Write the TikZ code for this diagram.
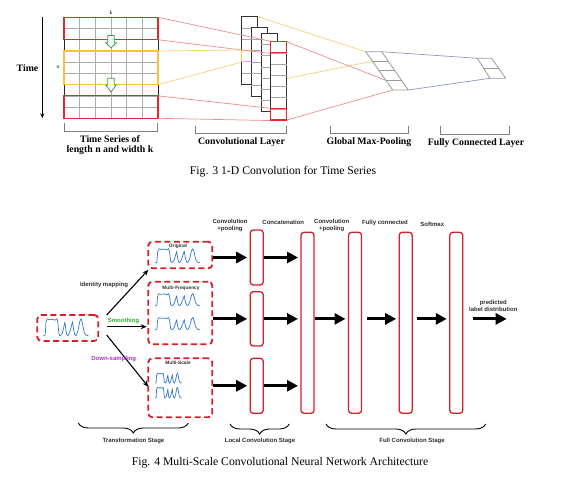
\documentclass[tikz,border=0pt]{standalone}
\usepackage{fontspec}
\setmainfont{Liberation Serif}
\newfontfamily\sansb{Liberation Sans}
\usetikzlibrary{arrows.meta,calc,decorations.pathreplacing}
\pgfdeclarelayer{back}
\pgfsetlayers{back,main}
\definecolor{lred}{RGB}{240,140,140}
\definecolor{lyel}{RGB}{246,208,120}
\definecolor{lblue}{RGB}{140,150,200}
\definecolor{rectred}{RGB}{228,40,45}
\definecolor{rectyel}{RGB}{245,195,60}
\definecolor{boxred}{RGB}{215,30,40}
\definecolor{garr}{RGB}{70,150,70}
\definecolor{wavecol}{RGB}{50,120,200}
\definecolor{smcol}{RGB}{50,170,50}
\definecolor{dscol}{RGB}{170,50,190}
\definecolor{txtg}{RGB}{45,45,45}
\newcommand\lbl{\sansb\bfseries\fontsize{6}{7}\selectfont}
\newcommand\slbl{\sansb\bfseries\fontsize{4.8}{5.5}\selectfont}
\newcommand\tlbl{\bfseries\fontsize{9.8}{10.5}\selectfont}
\newcommand\capfont{\fontsize{11.7}{14}\selectfont}
\newcommand\wave[4]{%
  \draw[wavecol, line width=0.7pt, shift={(#1,#2)}, xscale=#3, yscale=-#4]
  plot[smooth, tension=0.45] coordinates {(0,0.02) (0.04,0.06) (0.06,0.75) (0.09,0.95) (0.14,0.9) (0.2,0.93) (0.26,0.88) (0.3,0.95) (0.32,0.8) (0.35,0.1) (0.38,0.03) (0.42,0.15) (0.46,0.55) (0.48,0.75) (0.5,0.4) (0.52,0.08) (0.55,0.03) (0.59,0.25) (0.63,0.6) (0.65,0.78) (0.67,0.4) (0.7,0.08) (0.73,0.03) (0.77,0.3) (0.81,0.8) (0.84,0.95) (0.87,0.7) (0.91,0.2) (0.95,0.05) (1,0.02)};}
\begin{document}
\begin{tikzpicture}[x=1pt,y=-1pt,
  gridl/.style={draw=gray!65, line width=0.6pt},
  rrect/.style={draw=rectred, line width=1.1pt, inner sep=0pt, outer sep=0pt, minimum width=94pt},
  yrect/.style={draw=rectyel, line width=1.1pt, inner sep=0pt, outer sep=0pt, minimum width=94pt},
  colbox/.style={draw=gray!40!black, fill=white, line width=0.8pt, inner sep=0pt, outer sep=0pt, minimum width=16pt},
  colline/.style={draw=gray!70, line width=0.6pt},
  redl/.style={draw=lred, line width=0.7pt},
  yell/.style={draw=lyel, line width=0.7pt},
  bluel/.style={draw=lblue, line width=0.7pt},
  shapel/.style={draw=gray!80, line width=0.8pt},
  bracket/.style={draw=gray, line width=0.8pt},
  dbox/.style={draw=boxred, line width=1.8pt, dash pattern=on 6pt off 3.5pt, rounded corners=4pt, inner sep=0pt, outer sep=0pt},
  ccol/.style={draw=boxred, line width=1.3pt, rounded corners=3pt, inner sep=0pt, outer sep=0pt, minimum width=13pt},
  tarr/.style={line width=3pt, -{Triangle[length=11pt,width=11pt]}, shorten <=1pt, shorten >=3pt},
  thinarr/.style={line width=1.1pt, -{Stealth[length=6pt,width=5pt]}},
  brace/.style={decorate, decoration={brace, mirror, amplitude=10pt}, line width=0.9pt},
  txt/.style={inner sep=0pt, text=txtg, font=\lbl}
]
\useasboundingbox (0,0) rectangle (565,478);

% ---------------- Fig. 3 ----------------
\node[inner sep=0pt] (timel) at (27.5,68) {\tlbl Time};
\coordinate (ttop) at (42.3,16.7);
\coordinate (tbot) at (42.3,118.3);
\draw[line width=0.9pt, -{Stealth[length=5pt,width=4pt]}] (ttop) -- (tbot);
\node[inner sep=0pt] (nl) at (58,67.5) {\fontsize{5.5}{6}\selectfont n};
\node[inner sep=0pt] (kl) at (111,12.5) {\fontsize{5.5}{6}\selectfont k};
\foreach \i in {1,...,5} \draw[gridl] ({64+\i*94/6},17.3) -- ({64+\i*94/6},118.3);
\foreach \j in {0,...,9} \draw[gridl] (64,{17.3+\j*101/9}) -- (158,{17.3+\j*101/9});
\draw[draw=gray!30!black, line width=0.8pt] (64,17.3) -- (64,118.3) (158,17.3) -- (158,118.3);
\node[rrect, minimum height=22.44pt] (rtop) at (111,28.52) {};
\node[yrect, minimum height=33.67pt] (ymid) at (111,67.8) {};
\node[rrect, minimum height=22.44pt] (rbot) at (111,107.08) {};
\draw[draw=garr, fill=white, line width=0.8pt] (107.7,35.5) -- (114.3,35.5) -- (114.3,42.7) -- (116.3,42.7) -- (111,47.9) -- (105.7,42.7) -- (107.7,42.7) -- cycle;
\draw[draw=garr, fill=white, line width=0.8pt] (107.7,78.3) -- (114.3,78.3) -- (114.3,85) -- (116.3,85) -- (111,91.9) -- (105.7,85) -- (107.7,85) -- cycle;
\node[colbox, minimum height=67.6pt] (col0) at (249.7,50.5) {};
\foreach \j in {1,...,5} \draw[colline] (241.7,{16.7+\j*11.267}) -- (257.7,{16.7+\j*11.267});
\node[draw=rectyel, line width=1pt, inner sep=0pt, minimum width=16pt, minimum height=11.27pt] (ycell) at (249.7,56.13) {};
\node[colbox, minimum height=69.4pt] (col1) at (259.4,62) {};
\foreach \j in {1,...,5} \draw[colline] (251.4,{27.3+\j*11.567}) -- (267.4,{27.3+\j*11.567});
\node[colbox, minimum height=78.4pt] (col2) at (269,72.5) {};
\foreach \j in {1,...,6} \draw[colline] (261,{33.3+\j*11.2}) -- (277,{33.3+\j*11.2});
\node[colbox, minimum height=78.3pt] (col3) at (278.7,80.85) {};
\foreach \j in {1,...,6} \draw[colline] (270.7,{41.7+\j*11.186}) -- (286.7,{41.7+\j*11.186});
\node[draw=rectred, line width=1.1pt, inner sep=0pt, minimum width=16pt, minimum height=11.19pt] (r3top) at (278.7,47.29) {};
\node[draw=rectred, line width=1.1pt, inner sep=0pt, minimum width=16pt, minimum height=11.19pt] (r3bot) at (278.7,114.41) {};
\draw[redl] (rtop.north east) -- (r3top.north west);
\draw[redl] (rtop.south east) -- (r3top.south west);
\draw[yell] (ymid.north east) -- (ycell.north west);
\draw[yell] (ymid.south east) -- (ycell.south west);
\draw[redl] (rbot.north east) -- (r3bot.north west);
\draw[redl] (rbot.south east) -- (r3bot.south west);
\coordinate (p0) at (365.7,51.7);
\coordinate (p1) at (381.7,51.7);
\coordinate (p2) at (408.3,90);
\coordinate (p3) at (392.7,90);
\draw[shapel] (p0) -- (p1) -- (p2) -- (p3) -- cycle;
\foreach \t in {0.25,0.5,0.75} \draw[shapel] ($(p0)!\t!(p3)$) -- ($(p1)!\t!(p2)$);
\begin{pgfonlayer}{back}
\draw[yell] (col0.north east) -- (p0);
\draw[yell] (col0.south east) -- ($(p0)!0.25!(p3)$);
\draw[redl] (col3.north east) -- ($(p0)!0.75!(p3)$);
\draw[redl] (col3.south east) -- (p3);
\end{pgfonlayer}
\coordinate (q0) at (477.3,58.3);
\coordinate (q1) at (491.7,58.3);
\coordinate (q2) at (505.7,78.3);
\coordinate (q3) at (490,78.3);
\draw[shapel] (q0) -- (q1) -- (q2) -- (q3) -- cycle;
\draw[shapel] ($(q0)!0.5!(q3)$) -- ($(q1)!0.5!(q2)$);
\draw[bluel] (p1) -- (q0);
\draw[bluel] (p2) -- (q3);
\draw[bracket] (64,123.5) -- (64,131.7) -- (157,131.7) -- (157,123.5);
\draw[bracket] (195,126) -- (195,133.5) -- (286.7,133.5) -- (286.7,126);
\draw[bracket] (330.7,126) -- (330.7,133.5) -- (408.3,133.5) -- (408.3,126);
\draw[bracket] (440.7,126.5) -- (440.7,134) -- (509,134) -- (509,126.5);
\node[inner sep=0pt, align=center, font=\tlbl] (tsl) at (110,145.3) {Time Series of\\length n and width k};
\node[inner sep=0pt] (cll) at (241.5,141.7) {\tlbl Convolutional Layer};
\node[inner sep=0pt] (gml) at (369,141.7) {\tlbl Global Max-Pooling};
\node[inner sep=0pt] (fcl) at (476,143.3) {\tlbl Fully Connected Layer};
\node[inner sep=0pt] (cap3) at (283,172) {\capfont Fig. 3 1-D Convolution for Time Series};

% ---------------- Fig. 4 ----------------
\node[dbox, minimum width=61pt, minimum height=26pt] (in) at (67.8,328) {};
\node[dbox, minimum width=64pt, minimum height=26.6pt] (orig) at (180.3,255) {};
\node[dbox, minimum width=64pt, minimum height=62.6pt] (mfreq) at (180.3,313) {};
\node[dbox, minimum width=64pt, minimum height=59pt] (mscale) at (180.3,387.8) {};
\wave{43.3}{336}{45}{18}
\wave{155}{263}{45}{15}
\wave{155}{306}{45}{13}
\wave{155}{330}{45}{13}
\wave{155}{383.3}{26.7}{10.5}
\wave{155}{398.3}{26.7}{11.5}
\node[txt, font=\slbl] (origt) at (178,246) {Original};
\node[txt, font=\slbl] (mft) at (181,288) {Multi-Frequency};
\node[txt, font=\slbl] (mst) at (178,363) {Multi-Scale};
\node[inner sep=0pt, text=wavecol!60!gray] (dots1) at (168,337.5) {\fontsize{5}{5}\selectfont$\vdots$};
\node[inner sep=0pt, text=wavecol!60!gray] (dots2) at (166,412.5) {\fontsize{5}{5}\selectfont$\vdots$};
\draw[thinarr] ($(in.north east)+(8.4,0)$) -- ($(orig.south west)+(0,1.5)$);
\draw[thinarr] ($(in.east)+(8.4,-1.3)$) -- ($(mfreq.west)+(-1.6,13.7)$);
\draw[thinarr] ($(in.south east)+(8.4,-6)$) -- ($(mscale.west)+(0,-1)$);
\node[txt] (idl) at (104,285) {Identity mapping};
\node[txt, text=smcol] (sml) at (123.5,321) {Smoothing};
\node[txt, text=dscol] (dsl) at (113.7,359.3) {Down-sampling};
\node[ccol, minimum height=55pt] (a1) at (256.7,257.5) {};
\node[ccol, minimum height=54.3pt] (a2) at (256.7,318.9) {};
\node[ccol, minimum height=55pt] (a3) at (256.7,385.8) {};
\node[ccol, minimum height=181pt] (b) at (307.5,322.8) {};
\node[ccol, minimum height=181pt] (c) at (355,322.8) {};
\node[ccol, minimum height=181pt] (d) at (405.7,322.8) {};
\node[ccol, minimum height=181pt] (e) at (456.3,322.8) {};
\draw[tarr] (orig.east |- a1.west) -- (a1.west);
\draw[tarr] (a1.east) -- (a1.east -| b.west);
\draw[tarr] (mfreq.east |- a2.west) -- (a2.west);
\draw[tarr] (a2.east) -- (a2.east -| b.west);
\draw[tarr] (a2.east -| b.east) -- (a2.east -| c.west);
\draw[tarr, shorten <=5pt] (a2.east -| c.east) -- (a2.east -| d.west);
\draw[tarr, shorten <=4.4pt] (a2.east -| d.east) -- (a2.east -| e.west);
\coordinate (out) at (506.7,318.9);
\draw[tarr, shorten <=10.6pt, shorten >=0pt] (a2.east -| e.east) -- (out);
\draw[tarr] (mscale.east |- a3.west) -- (a3.west);
\draw[tarr] (a3.east) -- (a3.east -| b.west);
\node[txt, align=center] (cp1) at (230,225.8) {Convolution\\+pooling};
\node[txt] (cat) at (283.3,222.3) {Concatenation};
\node[txt, align=center] (cp2) at (331.7,225.8) {Convolution\\+pooling};
\node[txt] (fc) at (385,223) {Fully connected};
\node[txt] (sm) at (432.3,224.7) {Softmax};
\node[txt, align=center] (pred) at (493.3,306.3) {predicted\\label distribution};
\draw[brace] (78.3,423) -- (188.3,423);
\draw[brace] (230,424) -- (289.3,424);
\draw[brace] (326,424) -- (485.7,424);
\node[txt] (tst) at (133.5,440.5) {Transformation Stage};
\node[txt] (lcs) at (260,440.5) {Local Convolution Stage};
\node[txt] (fcs) at (412,440.5) {Full Convolution Stage};
\node[inner sep=0pt] (cap4) at (280,463) {\capfont Fig. 4 Multi-Scale Convolutional Neural Network Architecture};
\end{tikzpicture}
\end{document}
